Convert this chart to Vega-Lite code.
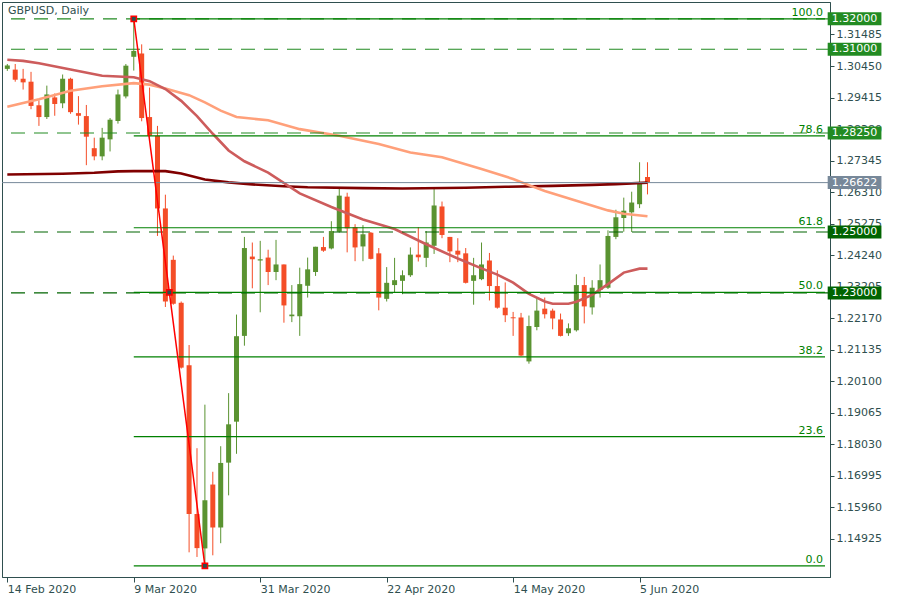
{
  "$schema": "https://vega.github.io/schema/vega-lite/v6.json",
  "width": 828,
  "height": 575,
  "autosize": "none",
  "padding": {"left": 2, "top": 2, "right": 70, "bottom": 23},
  "background": "white",
  "title": {"text": "GBPUSD, Daily", "anchor": "start", "frame": "group", "offset": -14, "dx": 6, "font": "DejaVu Sans", "fontSize": 11, "fontWeight": "normal", "color": "#2F4F4F"},
  "config": {
    "view": {"stroke": "#2F4F4F", "strokeWidth": 1},
    "font": "DejaVu Sans",
    "axis": {"grid": false, "domainColor": "#2F4F4F", "tickColor": "#2F4F4F", "labelColor": "#2F4F4F", "labelFont": "DejaVu Sans", "labelFontSize": 11, "labelOverlap": false, "labelFlush": false, "zindex": 0}
  },
  "datasets": {
    "candles": [
      {"i":0,"o":1.30355,"h":1.30516,"l":1.30290,"c":1.30468},
      {"i":1,"o":1.30332,"h":1.30516,"l":1.29935,"c":1.30000},
      {"i":2,"o":1.30032,"h":1.30355,"l":1.29677,"c":1.29913},
      {"i":3,"o":1.29935,"h":1.30258,"l":1.29032,"c":1.29139},
      {"i":4,"o":1.29161,"h":1.29323,"l":1.28484,"c":1.28774},
      {"i":5,"o":1.28774,"h":1.29806,"l":1.28710,"c":1.29516},
      {"i":6,"o":1.29419,"h":1.29548,"l":1.28816,"c":1.29203},
      {"i":7,"o":1.29226,"h":1.30171,"l":1.29065,"c":1.30032},
      {"i":8,"o":1.30032,"h":1.30065,"l":1.28881,"c":1.28935},
      {"i":9,"o":1.28903,"h":1.29461,"l":1.28526,"c":1.28816},
      {"i":10,"o":1.28806,"h":1.29171,"l":1.27194,"c":1.28129},
      {"i":11,"o":1.27752,"h":1.28097,"l":1.27355,"c":1.27484},
      {"i":12,"o":1.27484,"h":1.28419,"l":1.27355,"c":1.28097},
      {"i":13,"o":1.28042,"h":1.28742,"l":1.27645,"c":1.28687},
      {"i":14,"o":1.28645,"h":1.29677,"l":1.28558,"c":1.29516},
      {"i":15,"o":1.29452,"h":1.30516,"l":1.29387,"c":1.30461},
      {"i":16,"o":1.30752,"h":1.32000,"l":1.30300,"c":1.30945},
      {"i":17,"o":1.30861,"h":1.31161,"l":1.28635,"c":1.28742},
      {"i":18,"o":1.28774,"h":1.29742,"l":1.28129,"c":1.28161},
      {"i":19,"o":1.28161,"h":1.28484,"l":1.24871,"c":1.25774},
      {"i":20,"o":1.25774,"h":1.26226,"l":1.22539,"c":1.22719},
      {"i":21,"o":1.24087,"h":1.24226,"l":1.22613,"c":1.22645},
      {"i":22,"o":1.22677,"h":1.22719,"l":1.20516,"c":1.20548},
      {"i":23,"o":1.20623,"h":1.21290,"l":1.14484,"c":1.15742},
      {"i":24,"o":1.15742,"h":1.17903,"l":1.14332,"c":1.14623},
      {"i":25,"o":1.14613,"h":1.19332,"l":1.14042,"c":1.16194},
      {"i":26,"o":1.16710,"h":1.17129,"l":1.14387,"c":1.15300},
      {"i":27,"o":1.15300,"h":1.17968,"l":1.14784,"c":1.17419},
      {"i":28,"o":1.17429,"h":1.19710,"l":1.16355,"c":1.18687},
      {"i":29,"o":1.18774,"h":1.22290,"l":1.17719,"c":1.21580},
      {"i":30,"o":1.21590,"h":1.24839,"l":1.21268,"c":1.24474},
      {"i":31,"o":1.24194,"h":1.24655,"l":1.23152,"c":1.24106},
      {"i":32,"o":1.24065,"h":1.24710,"l":1.22365,"c":1.24106},
      {"i":33,"o":1.24161,"h":1.24419,"l":1.23258,"c":1.23687},
      {"i":34,"o":1.23687,"h":1.24742,"l":1.23419,"c":1.23935},
      {"i":35,"o":1.23935,"h":1.23935,"l":1.22023,"c":1.22590},
      {"i":36,"o":1.22235,"h":1.23258,"l":1.22042,"c":1.22290},
      {"i":37,"o":1.22235,"h":1.23829,"l":1.21590,"c":1.23290},
      {"i":38,"o":1.23235,"h":1.24161,"l":1.22848,"c":1.23774},
      {"i":39,"o":1.23687,"h":1.24516,"l":1.23558,"c":1.24516},
      {"i":40,"o":1.24506,"h":1.24839,"l":1.24350,"c":1.24387},
      {"i":41,"o":1.24461,"h":1.25355,"l":1.24430,"c":1.25032},
      {"i":42,"o":1.25010,"h":1.26429,"l":1.24980,"c":1.26194},
      {"i":43,"o":1.26161,"h":1.26290,"l":1.24332,"c":1.25119},
      {"i":44,"o":1.25161,"h":1.25258,"l":1.24042,"c":1.24494},
      {"i":45,"o":1.24526,"h":1.25226,"l":1.24042,"c":1.24926},
      {"i":46,"o":1.24977,"h":1.25000,"l":1.24100,"c":1.24119},
      {"i":47,"o":1.24300,"h":1.24474,"l":1.22429,"c":1.22848},
      {"i":48,"o":1.22806,"h":1.23848,"l":1.22719,"c":1.23332},
      {"i":49,"o":1.23258,"h":1.24152,"l":1.23010,"c":1.23419},
      {"i":50,"o":1.23397,"h":1.23742,"l":1.22958,"c":1.23581},
      {"i":51,"o":1.23581,"h":1.24494,"l":1.23526,"c":1.24258},
      {"i":52,"o":1.24258,"h":1.25161,"l":1.24032,"c":1.24171},
      {"i":53,"o":1.24152,"h":1.25032,"l":1.23848,"c":1.24655},
      {"i":54,"o":1.24548,"h":1.26410,"l":1.24281,"c":1.25871},
      {"i":55,"o":1.25839,"h":1.26000,"l":1.24797,"c":1.24903},
      {"i":56,"o":1.24839,"h":1.24839,"l":1.24010,"c":1.24364},
      {"i":57,"o":1.24387,"h":1.24797,"l":1.24010,"c":1.24258},
      {"i":58,"o":1.24300,"h":1.24474,"l":1.23310,"c":1.23332},
      {"i":59,"o":1.23397,"h":1.24152,"l":1.22613,"c":1.23581},
      {"i":60,"o":1.23452,"h":1.24655,"l":1.23419,"c":1.23935},
      {"i":61,"o":1.24065,"h":1.24313,"l":1.22752,"c":1.23226},
      {"i":62,"o":1.23226,"h":1.23742,"l":1.22484,"c":1.22516},
      {"i":63,"o":1.22516,"h":1.23345,"l":1.22042,"c":1.22268},
      {"i":64,"o":1.22200,"h":1.22377,"l":1.21590,"c":1.22168},
      {"i":65,"o":1.22194,"h":1.22345,"l":1.20930,"c":1.20945},
      {"i":66,"o":1.20752,"h":1.22258,"l":1.20677,"c":1.21913},
      {"i":67,"o":1.21881,"h":1.22848,"l":1.21774,"c":1.22420},
      {"i":68,"o":1.22484,"h":1.22848,"l":1.22161,"c":1.22300},
      {"i":69,"o":1.22420,"h":1.22484,"l":1.21806,"c":1.22161},
      {"i":70,"o":1.22129,"h":1.22323,"l":1.21571,"c":1.21590},
      {"i":71,"o":1.21677,"h":1.22000,"l":1.21590,"c":1.21839},
      {"i":72,"o":1.21774,"h":1.23613,"l":1.21732,"c":1.23258},
      {"i":73,"o":1.23258,"h":1.23526,"l":1.22000,"c":1.22558},
      {"i":74,"o":1.22526,"h":1.23419,"l":1.22290,"c":1.23171},
      {"i":75,"o":1.23097,"h":1.23935,"l":1.22848,"c":1.23419},
      {"i":76,"o":1.23171,"h":1.25055,"l":1.23129,"c":1.24871},
      {"i":77,"o":1.24839,"h":1.25732,"l":1.24765,"c":1.25484},
      {"i":78,"o":1.25461,"h":1.26129,"l":1.25010,"c":1.25700},
      {"i":79,"o":1.25645,"h":1.26323,"l":1.25000,"c":1.25968},
      {"i":80,"o":1.25913,"h":1.27290,"l":1.25784,"c":1.26590},
      {"i":81,"o":1.26806,"h":1.27290,"l":1.26235,"c":1.26622}
    ],
    "ma": [
      {"ma":"MA200","i":0,"v":1.26887},{"ma":"MA200","i":7,"v":1.26913},{"ma":"MA200","i":11,"v":1.26945},{"ma":"MA200","i":14,"v":1.26990},{"ma":"MA200","i":16,"v":1.27000},{"ma":"MA200","i":20,"v":1.27000},{"ma":"MA200","i":22,"v":1.26919},{"ma":"MA200","i":25,"v":1.26726},{"ma":"MA200","i":28,"v":1.26629},{"ma":"MA200","i":31,"v":1.26565},{"ma":"MA200","i":35,"v":1.26500},{"ma":"MA200","i":38,"v":1.26468},{"ma":"MA200","i":45,"v":1.26442},{"ma":"MA200","i":50,"v":1.26429},{"ma":"MA200","i":58,"v":1.26452},{"ma":"MA200","i":63,"v":1.26484},{"ma":"MA200","i":69,"v":1.26516},{"ma":"MA200","i":74,"v":1.26548},{"ma":"MA200","i":77,"v":1.26571},{"ma":"MA200","i":79,"v":1.26597},{"ma":"MA200","i":81,"v":1.26623},
      {"ma":"MA100","i":0,"v":1.29113},{"ma":"MA100","i":4,"v":1.29355},{"ma":"MA100","i":8,"v":1.29635},{"ma":"MA100","i":12,"v":1.29784},{"ma":"MA100","i":16,"v":1.29887},{"ma":"MA100","i":18,"v":1.29839},{"ma":"MA100","i":20,"v":1.29710},{"ma":"MA100","i":23,"v":1.29494},{"ma":"MA100","i":25,"v":1.29258},{"ma":"MA100","i":27,"v":1.28984},{"ma":"MA100","i":29,"v":1.28774},{"ma":"MA100","i":33,"v":1.28668},{"ma":"MA100","i":37,"v":1.28377},{"ma":"MA100","i":42,"v":1.28161},{"ma":"MA100","i":47,"v":1.27887},{"ma":"MA100","i":51,"v":1.27613},{"ma":"MA100","i":55,"v":1.27452},{"ma":"MA100","i":60,"v":1.27065},{"ma":"MA100","i":64,"v":1.26742},{"ma":"MA100","i":66,"v":1.26539},{"ma":"MA100","i":68,"v":1.26345},{"ma":"MA100","i":72,"v":1.26023},{"ma":"MA100","i":76,"v":1.25710},{"ma":"MA100","i":78,"v":1.25597},{"ma":"MA100","i":81,"v":1.25516},
      {"ma":"MA50","i":0,"v":1.30655},{"ma":"MA50","i":2,"v":1.30619},{"ma":"MA50","i":4,"v":1.30539},{"ma":"MA50","i":8,"v":1.30332},{"ma":"MA50","i":12,"v":1.30129},{"ma":"MA50","i":16,"v":1.30081},{"ma":"MA50","i":18,"v":1.29952},{"ma":"MA50","i":20,"v":1.29694},{"ma":"MA50","i":22,"v":1.29306},{"ma":"MA50","i":24,"v":1.28806},{"ma":"MA50","i":26,"v":1.28226},{"ma":"MA50","i":28,"v":1.27677},{"ma":"MA50","i":30,"v":1.27323},{"ma":"MA50","i":33,"v":1.26952},{"ma":"MA50","i":37,"v":1.26268},{"ma":"MA50","i":41,"v":1.25823},{"ma":"MA50","i":45,"v":1.25410},{"ma":"MA50","i":49,"v":1.25097},{"ma":"MA50","i":53,"v":1.24597},{"ma":"MA50","i":57,"v":1.24129},{"ma":"MA50","i":60,"v":1.23806},{"ma":"MA50","i":62,"v":1.23603},{"ma":"MA50","i":64,"v":1.23339},{"ma":"MA50","i":66,"v":1.22968},{"ma":"MA50","i":68,"v":1.22719},{"ma":"MA50","i":69,"v":1.22645},{"ma":"MA50","i":71,"v":1.22645},{"ma":"MA50","i":72,"v":1.22710},{"ma":"MA50","i":74,"v":1.22935},{"ma":"MA50","i":76,"v":1.23290},{"ma":"MA50","i":78,"v":1.23668},{"ma":"MA50","i":80,"v":1.23797},{"ma":"MA50","i":81,"v":1.23797}
    ],
    "levels": [
      {"p":1.32000,"kind":"resistance"},
      {"p":1.31000,"kind":"resistance"},
      {"p":1.28250,"kind":"resistance"},
      {"p":1.25000,"kind":"support"},
      {"p":1.23000,"kind":"support"},
      {"p":1.26622,"kind":"bid"}
    ],
    "fib": [
      {"label":"100.0","p":1.32000},
      {"label":"78.6","p":1.28157},
      {"label":"61.8","p":1.25140},
      {"label":"50.0","p":1.23021},
      {"label":"38.2","p":1.20902},
      {"label":"23.6","p":1.18280},
      {"label":"0.0","p":1.14042}
    ],
    "trend": [
      {"i":16,"p":1.32000},
      {"i":20.5,"p":1.23021},
      {"i":25,"p":1.14042}
    ]
  },
  "layer": [
    {
      "data": {"name": "candles"},
      "mark": {"type": "rule", "strokeWidth": 1},
      "encoding": {
        "x": {"field": "i", "type": "quantitative", "scale": {"domain": [-0.04, 103.46], "nice": false, "zero": false},
              "axis": {"title": null, "values": [0, 16, 32, 48, 64, 80], "labelAlign": "left", "tickSize": 5, "labelPadding": 1, "labelExpr": "datum.value == 0 ? '14 Feb 2020' : datum.value == 16 ? '9 Mar 2020' : datum.value == 32 ? '31 Mar 2020' : datum.value == 48 ? '22 Apr 2020' : datum.value == 64 ? '14 May 2020' : '5 Jun 2020'"}},
        "y": {"field": "l", "type": "quantitative", "scale": {"domain": [1.138387, 1.323871], "nice": false, "zero": false},
              "axis": {"title": null, "orient": "right", "values": [1.14925, 1.1596, 1.16995, 1.1803, 1.19065, 1.201, 1.21135, 1.2217, 1.23205, 1.2424, 1.25275, 1.2631, 1.27345, 1.2838, 1.29415, 1.3045, 1.31485], "format": ".5f", "tickSize": 4, "labelPadding": 2}},
        "y2": {"field": "h"},
        "color": {"condition": {"test": "datum.c >= datum.o", "value": "#5A9331"}, "value": "#F44D27"}
      }
    },
    {
      "data": {"name": "candles"},
      "mark": {"type": "bar", "width": 5},
      "encoding": {
        "x": {"field": "i", "type": "quantitative", "scale": {"domain": [-0.04, 103.46], "nice": false, "zero": false},
              "axis": {"title": null, "values": [0, 16, 32, 48, 64, 80], "labelAlign": "left", "tickSize": 5, "labelPadding": 1, "labelExpr": "datum.value == 0 ? '14 Feb 2020' : datum.value == 16 ? '9 Mar 2020' : datum.value == 32 ? '31 Mar 2020' : datum.value == 48 ? '22 Apr 2020' : datum.value == 64 ? '14 May 2020' : '5 Jun 2020'"}},
        "y": {"field": "o", "type": "quantitative", "scale": {"domain": [1.138387, 1.323871], "nice": false, "zero": false},
              "axis": {"title": null, "orient": "right", "values": [1.14925, 1.1596, 1.16995, 1.1803, 1.19065, 1.201, 1.21135, 1.2217, 1.23205, 1.2424, 1.25275, 1.2631, 1.27345, 1.2838, 1.29415, 1.3045, 1.31485], "format": ".5f", "tickSize": 4, "labelPadding": 2}},
        "y2": {"field": "c"},
        "color": {"condition": {"test": "datum.c >= datum.o", "value": "#5A9331"}, "value": "#F44D27"}
      }
    },
    {
      "data": {"name": "ma"},
      "mark": {"type": "line", "strokeWidth": 2.6},
      "encoding": {
        "x": {"field": "i", "type": "quantitative", "scale": {"domain": [-0.04, 103.46], "nice": false, "zero": false},
              "axis": {"title": null, "values": [0, 16, 32, 48, 64, 80], "labelAlign": "left", "tickSize": 5, "labelPadding": 1, "labelExpr": "datum.value == 0 ? '14 Feb 2020' : datum.value == 16 ? '9 Mar 2020' : datum.value == 32 ? '31 Mar 2020' : datum.value == 48 ? '22 Apr 2020' : datum.value == 64 ? '14 May 2020' : '5 Jun 2020'"}},
        "y": {"field": "v", "type": "quantitative", "scale": {"domain": [1.138387, 1.323871], "nice": false, "zero": false},
              "axis": {"title": null, "orient": "right", "values": [1.14925, 1.1596, 1.16995, 1.1803, 1.19065, 1.201, 1.21135, 1.2217, 1.23205, 1.2424, 1.25275, 1.2631, 1.27345, 1.2838, 1.29415, 1.3045, 1.31485], "format": ".5f", "tickSize": 4, "labelPadding": 2}},
        "detail": {"field": "ma"},
        "stroke": {"field": "ma", "type": "nominal", "scale": {"domain": ["MA50", "MA100", "MA200"], "range": ["#CD5C5C", "#FFA07A", "#800000"]}, "legend": null}
      }
    },
    {
      "data": {"name": "levels"},
      "transform": [{"filter": "datum.kind != 'bid'"}],
      "mark": {"type": "rule", "strokeWidth": 1.2, "strokeDash": [14, 9]},
      "encoding": {
        "y": {"field": "p", "type": "quantitative", "scale": {"domain": [1.138387, 1.323871], "nice": false, "zero": false},
              "axis": {"title": null, "orient": "right", "values": [1.14925, 1.1596, 1.16995, 1.1803, 1.19065, 1.201, 1.21135, 1.2217, 1.23205, 1.2424, 1.25275, 1.2631, 1.27345, 1.2838, 1.29415, 1.3045, 1.31485], "format": ".5f", "tickSize": 4, "labelPadding": 2}},
        "color": {"field": "kind", "type": "nominal", "scale": {"domain": ["resistance", "support", "bid"], "range": ["#228B22", "#006400", "#778899"]}, "legend": null}
      }
    },
    {
      "data": {"name": "levels"},
      "transform": [{"filter": "datum.kind == 'bid'"}],
      "mark": {"type": "rule", "strokeWidth": 1, "color": "#778899"},
      "encoding": {
        "y": {"field": "p", "type": "quantitative", "scale": {"domain": [1.138387, 1.323871], "nice": false, "zero": false},
              "axis": {"title": null, "orient": "right", "values": [1.14925, 1.1596, 1.16995, 1.1803, 1.19065, 1.201, 1.21135, 1.2217, 1.23205, 1.2424, 1.25275, 1.2631, 1.27345, 1.2838, 1.29415, 1.3045, 1.31485], "format": ".5f", "tickSize": 4, "labelPadding": 2}}
      }
    },
    {
      "data": {"name": "fib"},
      "mark": {"type": "rule", "strokeWidth": 1.2, "color": "#008000"},
      "encoding": {
        "x": {"datum": 16, "type": "quantitative", "scale": {"domain": [-0.04, 103.46], "nice": false, "zero": false},
              "axis": {"title": null, "values": [0, 16, 32, 48, 64, 80], "labelAlign": "left", "tickSize": 5, "labelPadding": 1, "labelExpr": "datum.value == 0 ? '14 Feb 2020' : datum.value == 16 ? '9 Mar 2020' : datum.value == 32 ? '31 Mar 2020' : datum.value == 48 ? '22 Apr 2020' : datum.value == 64 ? '14 May 2020' : '5 Jun 2020'"}},
        "x2": {"datum": 103.46},
        "y": {"field": "p", "type": "quantitative", "scale": {"domain": [1.138387, 1.323871], "nice": false, "zero": false},
              "axis": {"title": null, "orient": "right", "values": [1.14925, 1.1596, 1.16995, 1.1803, 1.19065, 1.201, 1.21135, 1.2217, 1.23205, 1.2424, 1.25275, 1.2631, 1.27345, 1.2838, 1.29415, 1.3045, 1.31485], "format": ".5f", "tickSize": 4, "labelPadding": 2}}
      }
    },
    {
      "data": {"name": "fib"},
      "mark": {"type": "text", "align": "right", "baseline": "alphabetic", "dy": -3, "fontSize": 11, "font": "DejaVu Sans", "color": "#008000"},
      "encoding": {
        "x": {"datum": 103.2, "type": "quantitative", "scale": {"domain": [-0.04, 103.46], "nice": false, "zero": false},
              "axis": {"title": null, "values": [0, 16, 32, 48, 64, 80], "labelAlign": "left", "tickSize": 5, "labelPadding": 1, "labelExpr": "datum.value == 0 ? '14 Feb 2020' : datum.value == 16 ? '9 Mar 2020' : datum.value == 32 ? '31 Mar 2020' : datum.value == 48 ? '22 Apr 2020' : datum.value == 64 ? '14 May 2020' : '5 Jun 2020'"}},
        "y": {"field": "p", "type": "quantitative", "scale": {"domain": [1.138387, 1.323871], "nice": false, "zero": false},
              "axis": {"title": null, "orient": "right", "values": [1.14925, 1.1596, 1.16995, 1.1803, 1.19065, 1.201, 1.21135, 1.2217, 1.23205, 1.2424, 1.25275, 1.2631, 1.27345, 1.2838, 1.29415, 1.3045, 1.31485], "format": ".5f", "tickSize": 4, "labelPadding": 2}},
        "text": {"field": "label"}
      }
    },
    {
      "data": {"name": "trend"},
      "mark": {"type": "line", "strokeWidth": 1.5, "color": "#FF0000"},
      "encoding": {
        "x": {"field": "i", "type": "quantitative", "scale": {"domain": [-0.04, 103.46], "nice": false, "zero": false},
              "axis": {"title": null, "values": [0, 16, 32, 48, 64, 80], "labelAlign": "left", "tickSize": 5, "labelPadding": 1, "labelExpr": "datum.value == 0 ? '14 Feb 2020' : datum.value == 16 ? '9 Mar 2020' : datum.value == 32 ? '31 Mar 2020' : datum.value == 48 ? '22 Apr 2020' : datum.value == 64 ? '14 May 2020' : '5 Jun 2020'"}},
        "y": {"field": "p", "type": "quantitative", "scale": {"domain": [1.138387, 1.323871], "nice": false, "zero": false},
              "axis": {"title": null, "orient": "right", "values": [1.14925, 1.1596, 1.16995, 1.1803, 1.19065, 1.201, 1.21135, 1.2217, 1.23205, 1.2424, 1.25275, 1.2631, 1.27345, 1.2838, 1.29415, 1.3045, 1.31485], "format": ".5f", "tickSize": 4, "labelPadding": 2}}
      }
    },
    {
      "data": {"name": "trend"},
      "mark": {"type": "point", "shape": "square", "size": 28, "filled": true, "fill": "#2F4F4F", "stroke": "#FF0000", "strokeWidth": 1.5, "opacity": 1},
      "encoding": {
        "x": {"field": "i", "type": "quantitative", "scale": {"domain": [-0.04, 103.46], "nice": false, "zero": false},
              "axis": {"title": null, "values": [0, 16, 32, 48, 64, 80], "labelAlign": "left", "tickSize": 5, "labelPadding": 1, "labelExpr": "datum.value == 0 ? '14 Feb 2020' : datum.value == 16 ? '9 Mar 2020' : datum.value == 32 ? '31 Mar 2020' : datum.value == 48 ? '22 Apr 2020' : datum.value == 64 ? '14 May 2020' : '5 Jun 2020'"}},
        "y": {"field": "p", "type": "quantitative", "scale": {"domain": [1.138387, 1.323871], "nice": false, "zero": false},
              "axis": {"title": null, "orient": "right", "values": [1.14925, 1.1596, 1.16995, 1.1803, 1.19065, 1.201, 1.21135, 1.2217, 1.23205, 1.2424, 1.25275, 1.2631, 1.27345, 1.2838, 1.29415, 1.3045, 1.31485], "format": ".5f", "tickSize": 4, "labelPadding": 2}}
      }
    },
    {
      "data": {"name": "levels"},
      "mark": {"type": "bar", "orient": "horizontal", "height": 13},
      "encoding": {
        "x": {"datum": 103.8, "type": "quantitative", "scale": {"domain": [-0.04, 103.46], "nice": false, "zero": false},
              "axis": {"title": null, "values": [0, 16, 32, 48, 64, 80], "labelAlign": "left", "tickSize": 5, "labelPadding": 1, "labelExpr": "datum.value == 0 ? '14 Feb 2020' : datum.value == 16 ? '9 Mar 2020' : datum.value == 32 ? '31 Mar 2020' : datum.value == 48 ? '22 Apr 2020' : datum.value == 64 ? '14 May 2020' : '5 Jun 2020'"}},
        "x2": {"datum": 110.6},
        "y": {"field": "p", "type": "quantitative", "scale": {"domain": [1.138387, 1.323871], "nice": false, "zero": false},
              "axis": {"title": null, "orient": "right", "values": [1.14925, 1.1596, 1.16995, 1.1803, 1.19065, 1.201, 1.21135, 1.2217, 1.23205, 1.2424, 1.25275, 1.2631, 1.27345, 1.2838, 1.29415, 1.3045, 1.31485], "format": ".5f", "tickSize": 4, "labelPadding": 2}},
        "color": {"field": "kind", "type": "nominal", "scale": {"domain": ["resistance", "support", "bid"], "range": ["#228B22", "#006400", "#778899"]}, "legend": null}
      }
    },
    {
      "data": {"name": "levels"},
      "mark": {"type": "text", "align": "left", "baseline": "middle", "fontSize": 11, "font": "DejaVu Sans", "color": "white"},
      "encoding": {
        "x": {"datum": 104.3, "type": "quantitative", "scale": {"domain": [-0.04, 103.46], "nice": false, "zero": false},
              "axis": {"title": null, "values": [0, 16, 32, 48, 64, 80], "labelAlign": "left", "tickSize": 5, "labelPadding": 1, "labelExpr": "datum.value == 0 ? '14 Feb 2020' : datum.value == 16 ? '9 Mar 2020' : datum.value == 32 ? '31 Mar 2020' : datum.value == 48 ? '22 Apr 2020' : datum.value == 64 ? '14 May 2020' : '5 Jun 2020'"}},
        "y": {"field": "p", "type": "quantitative", "scale": {"domain": [1.138387, 1.323871], "nice": false, "zero": false},
              "axis": {"title": null, "orient": "right", "values": [1.14925, 1.1596, 1.16995, 1.1803, 1.19065, 1.201, 1.21135, 1.2217, 1.23205, 1.2424, 1.25275, 1.2631, 1.27345, 1.2838, 1.29415, 1.3045, 1.31485], "format": ".5f", "tickSize": 4, "labelPadding": 2}},
        "text": {"field": "p", "type": "quantitative", "format": ".5f"}
      }
    }
  ]
}
